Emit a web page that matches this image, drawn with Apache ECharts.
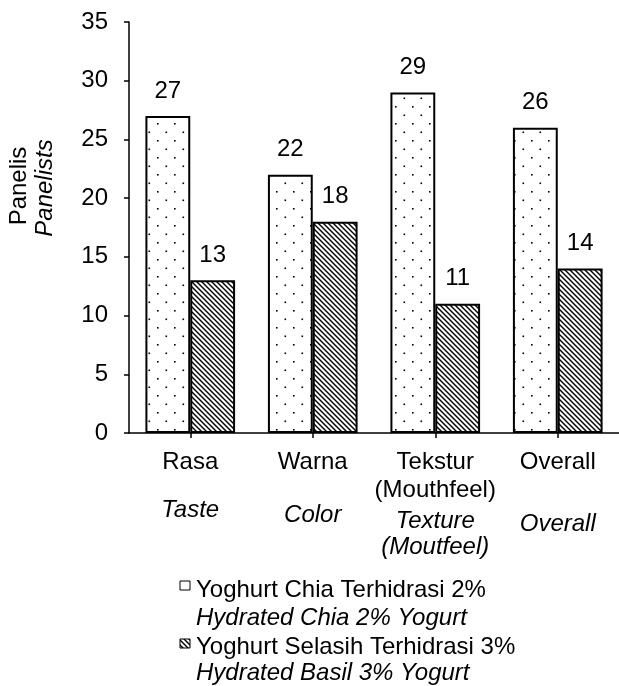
<!DOCTYPE html>
<html>
<head>
<meta charset="utf-8">
<script src="https://cdn.jsdelivr.net/npm/echarts@6/dist/echarts.min.js"></script>
<style>html,body{margin:0;padding:0;background:#fff}#c{width:619px;height:686px}</style>
</head>
<body>
<div id="c"></div>
<script>
var categoriesId = ['Rasa', 'Warna', 'Tekstur\n(Mouthfeel)', 'Overall'];
var categoriesEn = ['Taste', 'Color', 'Texture\n(Moutfeel)', 'Overall'];
var chiaValues = [27, 22, 29, 26];
var basilValues = [13, 18, 11, 14];
var yTicks = [0, 5, 10, 15, 20, 25, 30, 35];
var seriesNamesId = ['Yoghurt Chia Terhidrasi 2%', 'Yoghurt Selasih Terhidrasi 3%'];
var seriesNamesEn = ['Hydrated Chia 2% Yogurt', 'Hydrated Basil 3% Yogurt'];
var yTitleId = 'Panelis';
var yTitleEn = 'Panelists';

var FONT = 'Arial, "Liberation Sans", sans-serif';
var FS = 24;

function dotPattern() {
  var c = document.createElement('canvas');
  c.width = 17; c.height = 17;
  var g = c.getContext('2d');
  g.fillStyle = '#fff'; g.fillRect(0, 0, 17, 17);
  g.fillStyle = '#000';
  g.fillRect(4, 4, 1.6, 1.6);
  g.fillRect(12.5, 12.5, 1.6, 1.6);
  return c;
}
function hatchPattern() {
  var s = 5;
  var c = document.createElement('canvas');
  c.width = s; c.height = s;
  var g = c.getContext('2d');
  g.fillStyle = '#fff'; g.fillRect(0, 0, s, s);
  g.strokeStyle = '#000'; g.lineWidth = 1.4;
  for (var k = -1; k <= 1; k++) {
    g.beginPath();
    g.moveTo(k * s - 1, -1);
    g.lineTo(k * s + s + 1, s + 1);
    g.stroke();
  }
  return c;
}
var dotFill = { image: dotPattern(), repeat: 'repeat' };
var hatchFill = { image: hatchPattern(), repeat: 'repeat' };

var gapRich = ['g20', 'g25', 'g3', 'g34'];

var chart = echarts.init(document.getElementById('c'), null, { renderer: 'canvas' });
chart.setOption({
  animation: false,
  backgroundColor: '#fff',
  textStyle: { fontFamily: FONT, color: '#000' },
  grid: { left: 129, right: -2, top: 22, bottom: 253, containLabel: false },
  xAxis: {
    type: 'category',
    data: categoriesId,
    axisLine: { lineStyle: { color: '#000', width: 1.5 } },
    axisTick: { show: true, alignWithLabel: true, length: 5, lineStyle: { color: '#000', width: 1.5 } },
    axisLabel: {
      interval: 0,
      margin: 15,
      color: '#000',
      fontFamily: FONT,
      formatter: function (v, i) {
        var main = v.split('\n').map(function (s) { return '{a|' + s + '}'; }).join('\n');
        var tr = categoriesEn[i].split('\n').map(function (s) { return '{b|' + s + '}'; }).join('\n');
        return main + '\n{' + gapRich[i] + '| }\n' + tr;
      },
      rich: {
        a: { fontSize: FS, lineHeight: 28, fontFamily: FONT, color: '#000' },
        b: { fontSize: FS, lineHeight: 26, fontStyle: 'italic', fontFamily: FONT, color: '#000' },
        g20: { fontSize: 1, lineHeight: 21 },
        g25: { fontSize: 1, lineHeight: 26 },
        g3: { fontSize: 1, lineHeight: 4 },
        g34: { fontSize: 1, lineHeight: 35 }
      }
    }
  },
  yAxis: {
    type: 'value',
    min: yTicks[0],
    max: yTicks[yTicks.length - 1],
    interval: yTicks[1] - yTicks[0],
    axisLine: { show: true, lineStyle: { color: '#000', width: 1.5 } },
    axisTick: { show: true, length: 5, lineStyle: { color: '#000', width: 1.5 } },
    splitLine: { show: false },
    axisLabel: { fontSize: FS, margin: 21, color: '#000', fontFamily: FONT }
  },
  series: [
    {
      name: seriesNamesId[0],
      type: 'bar',
      data: chiaValues,
      barGap: '0%',
      barCategoryGap: '26.8%',
      itemStyle: { color: dotFill, borderColor: '#000', borderWidth: 2 },
      label: { show: true, position: 'top', distance: 13, fontSize: FS, color: '#000', fontFamily: FONT }
    },
    {
      name: seriesNamesId[1],
      type: 'bar',
      data: basilValues,
      barGap: '0%',
      barCategoryGap: '26.8%',
      itemStyle: { color: hatchFill, borderColor: '#000', borderWidth: 2 },
      label: { show: true, position: 'top', distance: 13, fontSize: FS, color: '#000', fontFamily: FONT }
    }
  ],
  graphic: [
    { type: 'text', x: 19, y: 186, rotation: Math.PI / 2,
      style: { text: yTitleId, font: FS + 'px ' + FONT, fill: '#000', textAlign: 'center', textVerticalAlign: 'middle' } },
    { type: 'text', x: 45, y: 188, rotation: Math.PI / 2,
      style: { text: yTitleEn, font: 'italic ' + FS + 'px ' + FONT, fill: '#000', textAlign: 'center', textVerticalAlign: 'middle' } },
    { type: 'rect', shape: { x: 180, y: 581, width: 10, height: 9 },
      style: { fill: dotFill, stroke: '#000', lineWidth: 1 } },
    { type: 'text', x: 196, y: 590,
      style: { text: seriesNamesId[0], font: FS + 'px ' + FONT, fill: '#000', textAlign: 'left', textVerticalAlign: 'middle' } },
    { type: 'text', x: 196, y: 618,
      style: { text: seriesNamesEn[0], font: 'italic ' + FS + 'px ' + FONT, fill: '#000', textAlign: 'left', textVerticalAlign: 'middle' } },
    { type: 'rect', shape: { x: 180, y: 639, width: 10, height: 9 },
      style: { fill: hatchFill, stroke: '#000', lineWidth: 1 } },
    { type: 'text', x: 196, y: 647,
      style: { text: seriesNamesId[1], font: FS + 'px ' + FONT, fill: '#000', textAlign: 'left', textVerticalAlign: 'middle' } },
    { type: 'text', x: 196, y: 673,
      style: { text: seriesNamesEn[1], font: 'italic ' + FS + 'px ' + FONT, fill: '#000', textAlign: 'left', textVerticalAlign: 'middle' } }
  ]
});
</script>
</body>
</html>
